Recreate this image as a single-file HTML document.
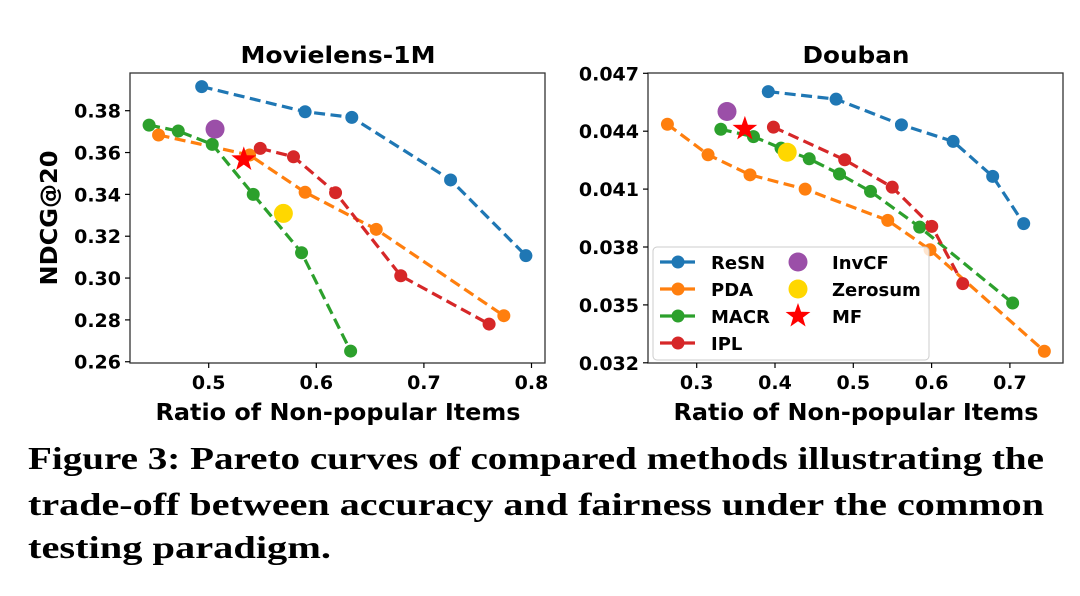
<!DOCTYPE html>
<html><head><meta charset="utf-8">
<style>
html,body{margin:0;padding:0;background:#fff;}
svg{display:block;}
text{font-family:"DejaVu Sans","Liberation Sans",sans-serif;font-weight:bold;fill:#000;}
.cap{font-family:"Liberation Serif",serif;font-size:32px;font-weight:bold;}
</style></head>
<body>
<svg id="fig" width="1080" height="596" viewBox="0 0 1080 596" xmlns="http://www.w3.org/2000/svg">
<g id="left"></g>
<g id="right"></g>
<g id="legend"></g>
<text class="cap" x="28" y="469" textLength="1016" lengthAdjust="spacingAndGlyphs">Figure 3: Pareto curves of compared methods illustrating the</text>
<text class="cap" x="28" y="515" textLength="1016" lengthAdjust="spacingAndGlyphs">trade-off between accuracy and fairness under the common</text>
<text class="cap" x="28" y="558" textLength="303" lengthAdjust="spacingAndGlyphs">testing paradigm.</text>
</svg>
<script>
// ---- Movielens-1M data ----
const mlXTicks = [0.5, 0.6, 0.7, 0.8];
const mlYTicks = [0.26, 0.28, 0.30, 0.32, 0.34, 0.36, 0.38];
const mlResnX = [0.4935, 0.5896, 0.633, 0.7248, 0.7948];
const mlResnY = [0.3915, 0.3795, 0.3768, 0.3469, 0.3107];
const mlPdaX = [0.4534, 0.538, 0.5896, 0.6557, 0.7743];
const mlPdaY = [0.3684, 0.3588, 0.341, 0.3233, 0.282];
const mlMacrX = [0.4446, 0.4717, 0.5033, 0.5414, 0.5863, 0.6319];
const mlMacrY = [0.3731, 0.3703, 0.3639, 0.340, 0.3121, 0.2651];
const mlIplX = [0.5479, 0.5788, 0.6179, 0.6785, 0.7606];
const mlIplY = [0.362, 0.358, 0.3408, 0.3011, 0.278];
const mlInvcf = [0.5059, 0.3712];
const mlZerosum = [0.5694, 0.3309];
const mlMf = [0.5326, 0.3567];
// ---- Douban data ----
const dbXTicks = [0.3, 0.4, 0.5, 0.6, 0.7];
const dbYTicks = [0.032, 0.035, 0.038, 0.041, 0.044, 0.047];
const dbResnX = [0.3914, 0.478, 0.5615, 0.6275, 0.678, 0.7176];
const dbResnY = [0.04605, 0.04566, 0.04433, 0.04347, 0.04166, 0.03921];
const dbPdaX = [0.2626, 0.3145, 0.3681, 0.4385, 0.544, 0.598, 0.744];
const dbPdaY = [0.04436, 0.04278, 0.04174, 0.041, 0.03938, 0.03786, 0.0326];
const dbMacrX = [0.3308, 0.3725, 0.4077, 0.4437, 0.4824, 0.522, 0.5848, 0.7035];
const dbMacrY = [0.0441, 0.04372, 0.04312, 0.04257, 0.04178, 0.04088, 0.03903, 0.0351];
const dbIplX = [0.398, 0.489, 0.5497, 0.6002, 0.6398];
const dbIplY = [0.04421, 0.04252, 0.0411, 0.03907, 0.0361];
const dbInvcf = [0.3387, 0.04502];
const dbZerosum = [0.4156, 0.04291];
const dbMf = [0.3615, 0.04412];

const NS = "http://www.w3.org/2000/svg";
const C = {resn:"#1f77b4", pda:"#ff7f0e", macr:"#2ca02c", ipl:"#d62728", invcf:"#9b4fa8", zero:"#ffd700", mf:"#ff0000"};
function mk(parent, tag, attrs){const e=document.createElementNS(NS,tag);for(const k in attrs)e.setAttribute(k,attrs[k]);parent.appendChild(e);return e;}
function starPts(cx,cy,R){const r=R*0.4;let p=[];for(let i=0;i<10;i++){const a=-Math.PI/2+i*Math.PI/5;const rr=i%2?r:R;p.push((cx+rr*Math.cos(a)).toFixed(1)+","+(cy+rr*Math.sin(a)).toFixed(1));}return p.join(" ");}

function chart(g, cfg){
  const sx = v => cfg.x0px + (v - cfg.x0v) * cfg.xs;
  const sy = v => cfg.y0px - (v - cfg.y0v) * cfg.ys;
  const box = mk(g,'rect',{x:cfg.L,y:cfg.T,width:cfg.R-cfg.L,height:cfg.B-cfg.T,fill:'none',stroke:'#333','stroke-width':1.3});
  
  
  cfg.xt.forEach(v=>{
    const x=sx(v);
    const t=mk(g,'line',{x1:x,x2:x,y1:cfg.B,y2:cfg.B+5,stroke:'#000','stroke-width':1.2});
    
    
    const l=mk(g,'text',{x:x,y:cfg.B+26,'text-anchor':'middle','font-size':19});
    
    
    l.textContent=v.toFixed(1);
  });
  cfg.yt.forEach(v=>{
    const y=sy(v);
    const t=mk(g,'line',{x1:cfg.L-5,x2:cfg.L,y1:y,y2:y,stroke:'#000','stroke-width':1.2});
    
    
    const l=mk(g,'text',{x:cfg.L-9,y:y+7,'text-anchor':'end','font-size':19});
    
    
    l.textContent=v.toFixed(cfg.dec);
  });
  cfg.series.forEach(s=>{
    const pts=s.x.map((v,i)=>sx(v).toFixed(1)+","+sy(s.y[i]).toFixed(1)).join(" ");
    const pl=mk(g,'polyline',{points:pts,fill:'none',stroke:s.c,'stroke-width':3.2,'stroke-dasharray':'11,5.5'});
    
    
    s.x.forEach((v,i)=>{
      const c=mk(g,'circle',{cx:sx(v),cy:sy(s.y[i]),r:6.5,fill:s.c});
      
      
    });
  });
  const iv=mk(g,'circle',{cx:sx(cfg.inv[0]),cy:sy(cfg.inv[1]),r:9.5,fill:C.invcf});
  
  
  const zs=mk(g,'circle',{cx:sx(cfg.zero[0]),cy:sy(cfg.zero[1]),r:9.5,fill:C.zero});
  
  
  const st=mk(g,'polygon',{points:starPts(sx(cfg.mf[0]),sy(cfg.mf[1]),13),fill:C.mf});
  
  
  const ti=mk(g,'text',{x:cfg.tx,y:63,'text-anchor':'middle','font-size':23,textLength:cfg.tw,lengthAdjust:'spacingAndGlyphs'});
  
  
  ti.textContent=cfg.title;
  const xl=mk(g,'text',{x:cfg.tx,y:420,'text-anchor':'middle','font-size':23,textLength:365,lengthAdjust:'spacingAndGlyphs'});
  
  
  xl.textContent='Ratio of Non-popular Items';
}

chart(document.getElementById('left'),{
  L:130,R:545,T:73,B:363,x0px:208.7,x0v:0.5,xs:1076,y0px:110.7,y0v:0.38,ys:2092,
  xt:mlXTicks,yt:mlYTicks,dec:2,title:'Movielens-1M',tx:338,tw:195,
  series:[{n:'resn',c:C.resn,x:mlResnX,y:mlResnY},{n:'pda',c:C.pda,x:mlPdaX,y:mlPdaY},{n:'macr',c:C.macr,x:mlMacrX,y:mlMacrY},{n:'ipl',c:C.ipl,x:mlIplX,y:mlIplY}],
  inv:mlInvcf,zero:mlZerosum,mf:mlMf});
chart(document.getElementById('right'),{
  L:648,R:1063,T:73,B:363,x0px:696.7,x0v:0.3,xs:783,y0px:73.3,y0v:0.047,ys:19300,
  xt:dbXTicks,yt:dbYTicks,dec:3,title:'Douban',tx:856,tw:107,
  series:[{n:'resn',c:C.resn,x:dbResnX,y:dbResnY},{n:'pda',c:C.pda,x:dbPdaX,y:dbPdaY},{n:'macr',c:C.macr,x:dbMacrX,y:dbMacrY},{n:'ipl',c:C.ipl,x:dbIplX,y:dbIplY}],
  inv:dbInvcf,zero:dbZerosum,mf:dbMf});

const yl=mk(document.getElementById('left'),'text',{x:0,y:0,'text-anchor':'middle','font-size':23,textLength:135,lengthAdjust:'spacingAndGlyphs',transform:'translate(57,218) rotate(-90)'});


yl.textContent='NDCG@20';

// legend
const lg=document.getElementById('legend');
const lb=mk(lg,'rect',{x:653,y:247,width:276,height:113,rx:4,fill:'rgba(255,255,255,0.8)',stroke:'#ccc','stroke-width':1});


const leg1=[['ReSN',C.resn],['PDA',C.pda],['MACR',C.macr],['IPL',C.ipl]];
leg1.forEach((e,i)=>{
  const y=262+i*27;
  const g=mk(lg,'g',{});
  
  
  mk(g,'line',{x1:660,x2:695,y1:y,y2:y,stroke:e[1],'stroke-width':3.2});
  mk(g,'circle',{cx:678,cy:y,r:6.5,fill:e[1]});
  const t=mk(g,'text',{x:711,y:y+7,'font-size':18});t.textContent=e[0];
});
const leg2=[['InvCF',C.invcf],['Zerosum',C.zero],['MF',C.mf]];
leg2.forEach((e,i)=>{
  const y=262+i*27;
  const g=mk(lg,'g',{});
  
  
  if(e[0]==='MF') mk(g,'polygon',{points:starPts(798,y,13),fill:e[1]});
  else mk(g,'circle',{cx:798,cy:y,r:9.5,fill:e[1]});
  const t=mk(g,'text',{x:832,y:y+7,'font-size':18});t.textContent=e[0];
});
</script>
</body></html>
